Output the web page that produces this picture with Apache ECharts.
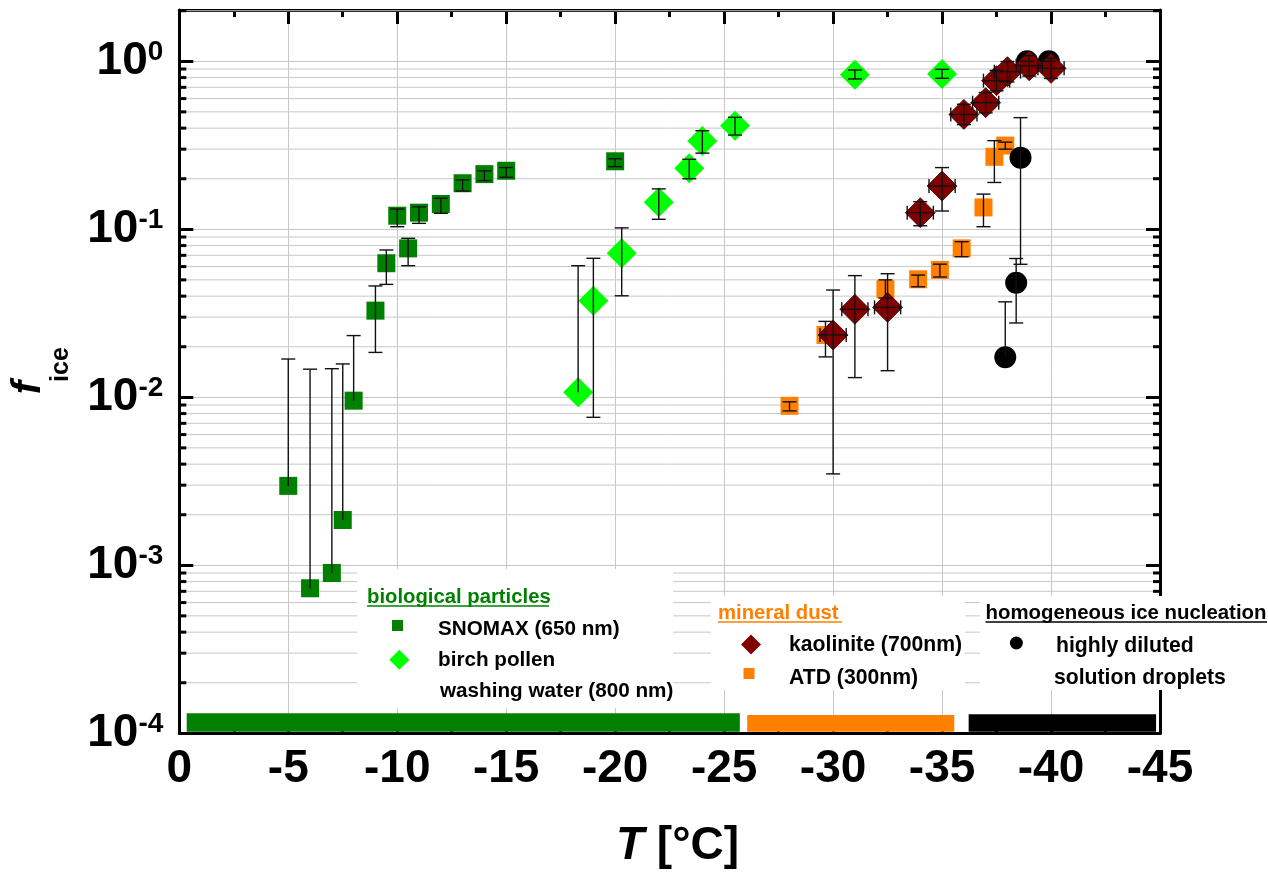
<!DOCTYPE html>
<html><head><meta charset="utf-8">
<script src="https://cdn.jsdelivr.net/npm/echarts@6/dist/echarts.min.js"></script>
<style>html,body{margin:0;padding:0;background:#fff}#c{width:1268px;height:873px}</style>
</head><body><div id="c"></div>
<script>
// ---------------- data ----------------
const snomaxT  = [-5, -6, -7, -7.5, -8, -9, -9.5, -10, -10.5, -11, -12, -13, -14, -15, -20];
const snomaxF  = [0.00297, 0.00073, 0.0009, 0.00186, 0.00955, 0.0328, 0.0628, 0.1205, 0.077, 0.1256, 0.1415, 0.188, 0.213, 0.223, 0.254];
const snomaxLo = [null, null, null, null, null, 0.0185, 0.047, 0.1036, 0.0607, 0.1085, 0.1245, 0.169, 0.195, 0.204, 0.236];
const snomaxHi = [0.0169, 0.0147, 0.0148, 0.0158, 0.0233, 0.046, 0.0753, 0.132, 0.0884, 0.136, 0.153, 0.197, 0.223, 0.233, 0.263];

const birchT  = [-18.3, -19, -20.3, -22, -23.4, -24, -25.5, -31, -35];
const birchF  = [0.0107, 0.0376, 0.072, 0.145, 0.231, 0.335, 0.414, 0.832, 0.84];
const birchLo = [null, 0.0076, 0.0402, 0.1147, 0.2, 0.284, 0.364, 0.785, 0.792];
const birchHi = [0.0607, 0.0672, 0.102, 0.174, 0.261, 0.386, 0.464, 0.887, 0.896];

const kaolT    = [-30, -31, -32.5, -34, -35, -36, -37, -37.5, -38, -39, -40];
const kaolF    = [0.0235, 0.0334, 0.0343, 0.1256, 0.181, 0.483, 0.567, 0.767, 0.867, 0.94, 0.908];
const kaolLo   = [0.0035, 0.0131, 0.0144, 0.105, 0.1285, 0.42, 0.493, 0.667, 0.754, 0.817, 0.79];
const kaolHi   = [0.0435, 0.053, 0.0544, 0.146, 0.233, 0.555, 0.652, 0.882, 0.997, 1.08, 1.044];
const kaolXErr = [0.6, 0.6, 0.6, 0.6, 0.6, 0.6, 0.6, 0.6, 0.6, 0.6, 0.6];

const atdT  = [-28, -29.65, -32.4, -33.9, -34.9, -35.9, -36.9, -37.4, -37.9];
const atdF  = [0.0089, 0.0235, 0.044, 0.0504, 0.0573, 0.077, 0.135, 0.27, 0.315];
const atdLo = [0.0083, 0.0174, 0.039, 0.0455, 0.052, 0.0687, 0.1036, 0.19, 0.3];
const atdHi = [0.0094, 0.0283, 0.05, 0.0534, 0.062, 0.0844, 0.162, 0.337, 0.33];

const homT  = [-37.9, -38.4, -38.6, -38.9, -39.9];
const homF  = [0.0173, 0.0481, 0.267, 1.0, 1.0];
const homLo = [null, 0.0277, 0.0619, null, null];
const homHi = [0.037, 0.067, 0.462, 1.0, 1.0];

// temperature regime bands along the bottom
const bandFrom = [-0.34, -26.06, -36.22];
const bandTo   = [-25.72, -35.56, -44.82];
const bandTopF = [1.315e-4, 1.285e-4, 1.30e-4];
const bandBotF = 1.02e-4;

// axis ranges / ticks
const xMin = -45, xMax = 0, xStep = 5;
const yMin = 1e-4, yMax = 2.02;
const yDecades = [-4, -3, -2, -1, 0];

// ---------------- styles ----------------
const FONT = "'Liberation Sans', Arial, Helvetica, sans-serif";
const GRID = '#c8c8c8';
const COL = { snomax: '#008000', birch: '#00ff00', kaol: '#800000', atd: '#ff8000', hom: '#000000' };
const bandColors = ['#008000', '#ff8000', '#000000'];

// minor log grid values (2..9 x 10^n)
const minorVals = [];
yDecades.forEach(function (e) {
  for (let k = 2; k <= 9; k++) { const v = k * Math.pow(10, e); if (v < yMax) minorVals.push([0, v]); }
});

function errData(T, F, Lo, Hi, XE) {
  return T.map(function (t, i) {
    const hasLo = Lo[i] != null ? 1 : 0;
    return [t, F[i], hasLo ? Lo[i] : F[i], Hi[i], hasLo, XE ? XE[i] : 0];
  });
}
function errRender(params, api) {
  const x = api.value(0), f = api.value(1), lo = api.value(2), hi = api.value(3), hasLo = api.value(4), xe = api.value(5);
  const pH = api.coord([x, hi]), pL = api.coord([x, lo]), pC = api.coord([x, f]);
  const st = { stroke: '#111', lineWidth: 1.4 };
  const cap = 7;
  const ch = [
    { type: 'line', shape: { x1: pH[0], y1: pH[1], x2: pL[0], y2: pL[1] }, style: st },
    { type: 'line', shape: { x1: pH[0] - cap, y1: pH[1], x2: pH[0] + cap, y2: pH[1] }, style: st }
  ];
  if (hasLo) ch.push({ type: 'line', shape: { x1: pL[0] - cap, y1: pL[1], x2: pL[0] + cap, y2: pL[1] }, style: st });
  if (xe > 0) {
    const a = api.coord([x - xe, f]), b = api.coord([x + xe, f]);
    ch.push({ type: 'line', shape: { x1: a[0], y1: a[1], x2: b[0], y2: b[1] }, style: st });
    ch.push({ type: 'line', shape: { x1: a[0], y1: a[1] - cap, x2: a[0], y2: a[1] + cap }, style: st });
    ch.push({ type: 'line', shape: { x1: b[0], y1: b[1] - cap, x2: b[0], y2: b[1] + cap }, style: st });
  }
  return { type: 'group', children: ch };
}
function pts(T, F) { return T.map(function (t, i) { return [t, F[i]]; }); }

const xAxisBase = {
  type: 'value', min: xMin, max: xMax, interval: xStep, inverse: true,
  axisLine: { show: true, onZero: false, lineStyle: { color: '#000', width: 3 } },
  axisTick: { show: true, inside: true, length: 14, lineStyle: { color: '#000', width: 3 } },
  minorTick: { show: true, splitNumber: 2, length: 7, lineStyle: { color: '#000', width: 3 } }
};
const yAxisBase = {
  type: 'log', logBase: 10, min: yMin, max: yMax,
  axisLine: { show: true, onZero: false, lineStyle: { color: '#000', width: 3 } },
  axisTick: { show: true, inside: true, length: 14, lineStyle: { color: '#000', width: 3 } },
  minorTick: { show: false }
};

const option = {
  animation: false,
  backgroundColor: '#fff',
  grid: { left: 179.3, right: 108, top: 10, bottom: 139.7, containLabel: false },
  xAxis: [
    Object.assign({}, xAxisBase, {
      position: 'bottom',
      splitLine: { show: true, lineStyle: { color: GRID, width: 1 } },
      axisLabel: { show: true, color: '#000', fontFamily: FONT, fontWeight: 'bold', fontSize: 46, margin: 13 }
    }),
    Object.assign({}, xAxisBase, {
      position: 'top', splitLine: { show: false }, axisLabel: { show: false }
    })
  ],
  yAxis: [
    Object.assign({}, yAxisBase, {
      position: 'left',
      splitLine: { show: true, lineStyle: { color: GRID, width: 1 } },
      axisLabel: {
        show: true, margin: 16, color: '#000',
        formatter: function (v) {
          const l = Math.log10(v), e = Math.round(l);
          if (Math.abs(l - e) > 1e-6) return '';
          return '{b|10}{s|' + e + '}';
        },
        rich: {
          b: { fontFamily: FONT, fontWeight: 'bold', fontSize: 46, lineHeight: 46, color: '#000' },
          s: { fontFamily: FONT, fontWeight: 'bold', fontSize: 28, lineHeight: 6, verticalAlign: 'top', color: '#000' }
        }
      }
    }),
    Object.assign({}, yAxisBase, {
      position: 'right', splitLine: { show: false }, axisLabel: { show: false }
    })
  ],
  series: [
    { // minor log gridlines + minor ticks
      type: 'custom', z: 1, silent: true, clip: false,
      xAxisIndex: 0, yAxisIndex: 0,
      data: minorVals,
      encode: { x: 0, y: 1 },
      renderItem: function (params, api) {
        const cs = params.coordSys;
        const y = api.coord([0, api.value(1)])[1];
        return { type: 'group', children: [
          { type: 'line', shape: { x1: cs.x + 2, y1: y, x2: cs.x + cs.width - 2, y2: y }, style: { stroke: GRID, lineWidth: 1 } },
          { type: 'line', shape: { x1: cs.x, y1: y, x2: cs.x + 7, y2: y }, style: { stroke: '#000', lineWidth: 3 } },
          { type: 'line', shape: { x1: cs.x + cs.width - 7, y1: y, x2: cs.x + cs.width, y2: y }, style: { stroke: '#000', lineWidth: 3 } }
        ] };
      }
    },
    { // regime bands
      type: 'custom', z: 2, silent: true, clip: false,
      data: bandFrom.map(function (a, i) { return [a, bandTopF[i], bandTo[i], i]; }),
      encode: { x: [0, 2], y: 1 },
      renderItem: function (params, api) {
        const p0 = api.coord([api.value(0), api.value(1)]);
        const p1 = api.coord([api.value(2), bandBotF]);
        return { type: 'rect', shape: { x: p0[0], y: p0[1], width: p1[0] - p0[0], height: p1[1] - p0[1] },
                 style: { fill: bandColors[api.value(3)] } };
      }
    },
    { name: 'SNOMAX', type: 'scatter', z: 3, symbol: 'rect', symbolSize: 18, itemStyle: { color: COL.snomax, opacity: 1 }, data: pts(snomaxT, snomaxF) },
    { name: 'birch', type: 'scatter', z: 3, symbol: 'diamond', symbolSize: 30, itemStyle: { color: COL.birch, opacity: 1 }, data: pts(birchT, birchF) },
    { name: 'ATD', type: 'scatter', z: 3, symbol: 'rect', symbolSize: 18, itemStyle: { color: COL.atd, opacity: 1 }, data: pts(atdT, atdF) },
    { name: 'hom', type: 'scatter', z: 3, symbol: 'circle', symbolSize: 22, itemStyle: { color: COL.hom, opacity: 1 }, data: pts(homT, homF) },
    { name: 'kaol', type: 'scatter', z: 3, symbol: 'diamond', symbolSize: 30, itemStyle: { color: COL.kaol, borderColor: '#3a0000', borderWidth: 0.8, opacity: 1 }, data: pts(kaolT, kaolF) },
    { type: 'custom', z: 4, silent: true, clip: false, encode: { x: 0, y: [1, 2, 3] }, data: errData(snomaxT, snomaxF, snomaxLo, snomaxHi), renderItem: errRender },
    { type: 'custom', z: 4, silent: true, clip: false, encode: { x: 0, y: [1, 2, 3] }, data: errData(birchT, birchF, birchLo, birchHi), renderItem: errRender },
    { type: 'custom', z: 4, silent: true, clip: false, encode: { x: 0, y: [1, 2, 3] }, data: errData(atdT, atdF, atdLo, atdHi), renderItem: errRender },
    { type: 'custom', z: 4, silent: true, clip: false, encode: { x: 0, y: [1, 2, 3] }, data: errData(homT, homF, homLo, homHi), renderItem: errRender },
    { type: 'custom', z: 4, silent: true, clip: false, encode: { x: 0, y: [1, 2, 3] }, data: errData(kaolT, kaolF, kaolLo, kaolHi, kaolXErr), renderItem: errRender }
  ],
  graphic: { elements: [] }
};

// ---------------- legend boxes & titles (graphic) ----------------
const G = option.graphic.elements;
function box(x, y, w, h) { G.push({ type: 'rect', z: 2, silent: true, shape: { x: x, y: y, width: w, height: h }, style: { fill: '#fff' } }); }
function text(x, y, s, color, size, extra) {
  G.push(Object.assign({ type: 'text', z: 6, silent: true, x: x, y: y,
    style: { text: s, fill: color, font: 'bold ' + size + 'px ' + FONT, textAlign: 'left', textVerticalAlign: 'middle', verticalAlign: 'middle' } }, extra || {}));
}
function uline(x1, x2, y, color) { G.push({ type: 'line', z: 6, silent: true, shape: { x1: x1, y1: y, x2: x2, y2: y }, style: { stroke: color, lineWidth: 1.6 } }); }
function sq(cx, cy, s, color) { G.push({ type: 'rect', z: 6, silent: true, shape: { x: cx - s / 2, y: cy - s / 2, width: s, height: s }, style: { fill: color } }); }
function dia(cx, cy, s, color) { const h = s / 2; G.push({ type: 'polygon', z: 6, silent: true, shape: { points: [[cx, cy - h], [cx + h, cy], [cx, cy + h], [cx - h, cy]] }, style: { fill: color } }); }
function circ(cx, cy, r, color) { G.push({ type: 'circle', z: 6, silent: true, shape: { cx: cx, cy: cy, r: r }, style: { fill: color } }); }

// biological particles
box(357, 569, 316, 139);
text(367, 597, 'biological particles', COL.snomax, 20.3);
uline(367, 549, 606, COL.snomax);
sq(397.5, 625.5, 11, COL.snomax);
text(438, 629, 'SNOMAX (650 nm)', '#000', 20.7);
dia(399.3, 659.7, 20, COL.birch);
text(438, 660, 'birch pollen', '#000', 20.7);
text(440, 691, 'washing water (800 nm)', '#000', 20.7);

// mineral dust
box(711, 596, 254, 94);
text(718, 613, 'mineral dust', COL.atd, 20.3);
uline(718, 842, 622, COL.atd);
dia(751, 644.5, 20, COL.kaol);
text(789, 645, 'kaolinite (700nm)', '#000', 21.2);
sq(749, 673.5, 11, COL.atd);
text(789, 678, 'ATD (300nm)', '#000', 21.2);

// homogeneous
box(980, 596, 288, 94);
text(985.5, 613, 'homogeneous ice nucleation', '#000', 20.4);
uline(985.5, 1267, 622, '#000');
circ(1016.4, 643, 6.5, '#000');
text(1056, 646, 'highly diluted', '#000', 21.2);
text(1054, 678, 'solution droplets', '#000', 21.2);

// axis titles
G.push({ type: 'text', z: 6, silent: true, x: 677.5, y: 846,
  style: { text: '{i|T}{n| [°C]}', textAlign: 'center', textVerticalAlign: 'middle', verticalAlign: 'middle',
    rich: { i: { font: 'italic bold 46px ' + FONT, fill: '#000' }, n: { font: 'bold 46px ' + FONT, fill: '#000' } } } });
G.push({ type: 'text', z: 6, silent: true, x: 29, y: 387.5, rotation: Math.PI / 2,
  style: { text: 'f', font: 'italic bold 40px ' + FONT, fill: '#000', textAlign: 'center', textVerticalAlign: 'middle', verticalAlign: 'middle' } });
G.push({ type: 'text', z: 6, silent: true, x: 61, y: 364.5, rotation: Math.PI / 2,
  style: { text: 'ice', font: 'bold 25px ' + FONT, fill: '#000', textAlign: 'center', textVerticalAlign: 'middle', verticalAlign: 'middle' } });

const chart = echarts.init(document.getElementById('c'), null, { renderer: 'canvas' });
chart.setOption(option);
</script>
</body></html>
